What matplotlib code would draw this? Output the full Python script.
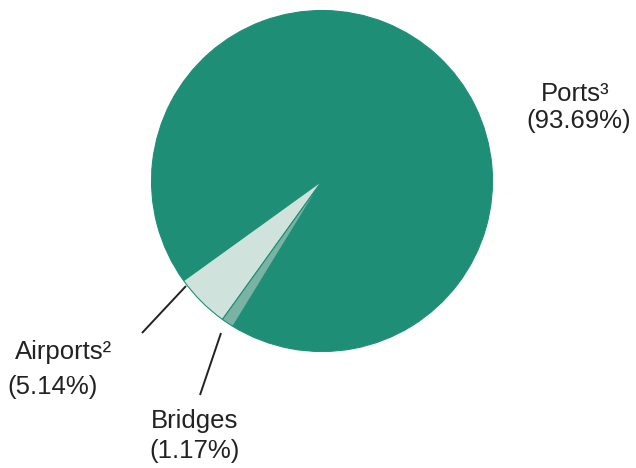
import matplotlib.pyplot as plt

# share of total by facility type
labels = ["Ports", "Airports", "Bridges"]
shares = [93.69, 5.14, 1.17]
label_names = ["Ports\u00b3", "Airports\u00b2", "Bridges"]
colors = ["#1e8f76", "#cfe3dc", "#7ab3a3"]

W, H = 636, 468
cx, cy, r = 322, 181, 170.5

plt.rcParams["font.family"] = ["Liberation Sans", "DejaVu Sans"]

fig = plt.figure(figsize=(W / 100, H / 100), dpi=100)
ax = fig.add_axes([(cx - r) / W, (H - cy - r) / H, 2 * r / W, 2 * r / H])
ax.pie(shares, colors=colors, startangle=238.5, radius=1,
       wedgeprops=dict(edgecolor="#1e8f76", linewidth=0.8))
ax.set_xlim(-1, 1)
ax.set_ylim(-1, 1)
ax.set_aspect("equal")
ax.axis("off")


def px(x, y):
    # pixel position -> pie data coordinates
    return (x - cx) / r, (cy - y) / r


# leader lines
for (x0, y0), (x1, y1) in [((186, 286), (142, 333)), ((221, 333), (200, 395))]:
    a = px(x0, y0)
    b = px(x1, y1)
    ax.plot([a[0], b[0]], [a[1], b[1]], color="#222222", lw=1.4,
            clip_on=False, solid_capstyle="butt")

# labels: name line and percentage line
text_pos = {
    "Ports": ((541, 101), (526, 128)),
    "Airports": ((15, 359), (7, 394)),
    "Bridges": ((151, 428), (149, 458)),
}
fs = 18.5
for name, disp, val in zip(labels, label_names, shares):
    (x0, y0), (x1, y1) = text_pos[name]
    fig.text(x0 / W, 1 - y0 / H, disp, fontsize=fs, va="baseline",
             ha="left", color="#222222")
    fig.text(x1 / W, 1 - y1 / H, f"({val:.2f}%)", fontsize=fs,
             va="baseline", ha="left", color="#222222")

fig.savefig("out.png", dpi=100, facecolor="white")
